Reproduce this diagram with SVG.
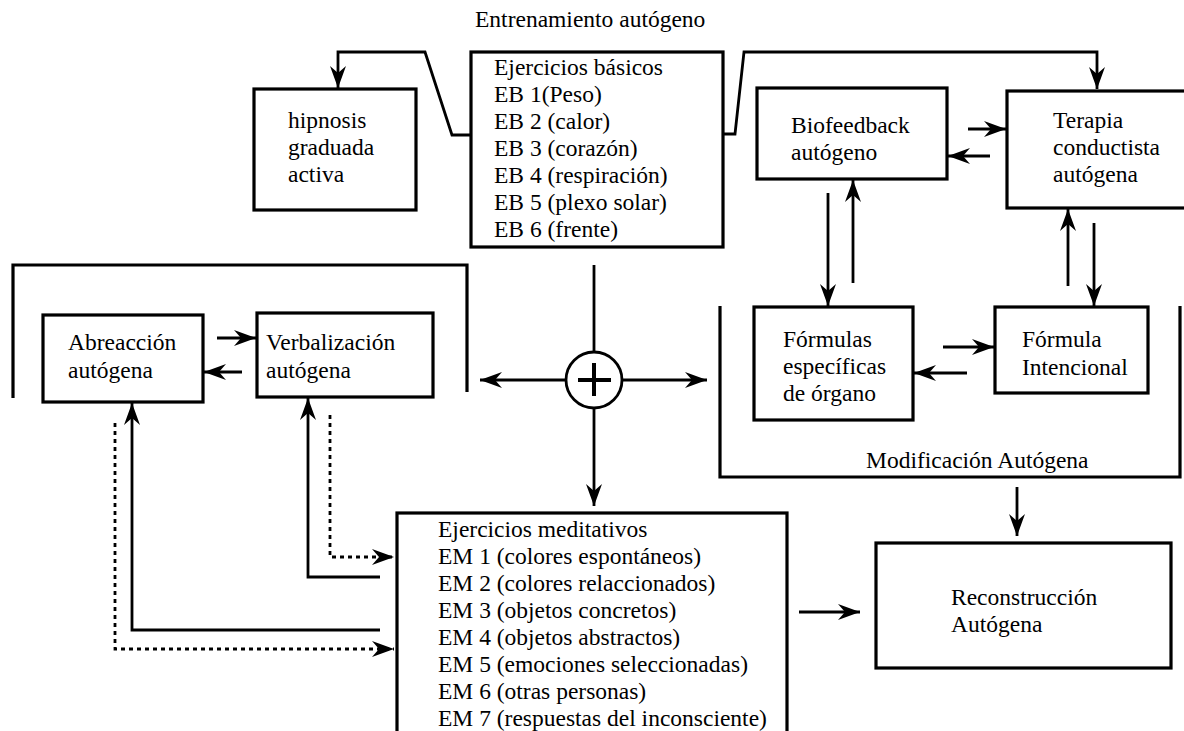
<svg xmlns="http://www.w3.org/2000/svg" width="1184" height="731" viewBox="0 0 1184 731">
<style>
  .box { fill: none; stroke: #000; stroke-width: 3.2; }
  .t { font-family: "Liberation Serif", "Times New Roman", serif; font-size: 23.5px; fill: #000; }
  .ln { fill: none; stroke: #000; stroke-width: 2.8; }
  .ar { fill: none; stroke: #000; stroke-width: 2.8; marker-end: url(#ah); }
  .dt { fill: none; stroke: #000; stroke-width: 2.8; stroke-dasharray: 4 4; marker-end: url(#ah); }
</style>
<defs>
  <marker id="ah" markerUnits="userSpaceOnUse" viewBox="0 0 22 16" refX="22" refY="8" markerWidth="22" markerHeight="16" orient="auto">
    <path d="M0,0 L22,8 L0,16 L7,8 z" fill="#000"/>
  </marker>
</defs>
<rect width="1184" height="731" fill="#fff"/>

<text class="t" x="475" y="27">Entrenamiento autógeno</text>

<g id="ejercicios-basicos">
  <rect class="box" x="471" y="52" width="252" height="195"/>
  <text class="t" x="494" y="75">Ejercicios básicos</text>
  <text class="t" x="494" y="102">EB 1(Peso)</text>
  <text class="t" x="494" y="129">EB 2 (calor)</text>
  <text class="t" x="494" y="156">EB 3 (corazón)</text>
  <text class="t" x="494" y="183">EB 4 (respiración)</text>
  <text class="t" x="494" y="210">EB 5 (plexo solar)</text>
  <text class="t" x="494" y="237">EB 6 (frente)</text>
</g>

<g id="hipnosis">
  <rect class="box" x="254" y="89" width="162" height="121"/>
  <text class="t" x="288" y="128">hipnosis</text>
  <text class="t" x="288" y="155">graduada</text>
  <text class="t" x="288" y="182">activa</text>
</g>

<g id="biofeedback">
  <rect class="box" x="757" y="88" width="190" height="91"/>
  <text class="t" x="791" y="133">Biofeedback</text>
  <text class="t" x="791" y="160">autógeno</text>
</g>

<g id="terapia">
  <rect class="box" x="1007" y="91" width="180" height="117"/>
  <text class="t" x="1053" y="128">Terapia</text>
  <text class="t" x="1053" y="155">conductista</text>
  <text class="t" x="1053" y="182">autógena</text>
</g>

<g id="formulas-organo">
  <rect class="box" x="754" y="307" width="159" height="113"/>
  <text class="t" x="783" y="347">Fórmulas</text>
  <text class="t" x="783" y="374">específicas</text>
  <text class="t" x="783" y="401">de órgano</text>
</g>

<g id="formula-intencional">
  <rect class="box" x="995" y="307" width="153" height="86"/>
  <text class="t" x="1022" y="347">Fórmula</text>
  <text class="t" x="1022" y="375">Intencional</text>
</g>

<g id="modificacion">
  <path class="box" d="M720,306 V477 H1180 V306"/>
  <text class="t" x="866" y="468">Modificación Autógena</text>
</g>

<g id="reconstruccion">
  <rect class="box" x="876" y="543" width="295" height="125"/>
  <text class="t" x="951" y="605">Reconstrucción</text>
  <text class="t" x="951" y="632">Autógena</text>
</g>

<g id="grupo-izquierdo">
  <path class="box" d="M13,398 V265 H467 V392"/>
</g>

<g id="abreaccion">
  <rect class="box" x="43" y="315" width="160" height="87"/>
  <text class="t" x="68" y="350">Abreacción</text>
  <text class="t" x="68" y="378">autógena</text>
</g>

<g id="verbalizacion">
  <rect class="box" x="257" y="313" width="176" height="84"/>
  <text class="t" x="266" y="350">Verbalización</text>
  <text class="t" x="266" y="378">autógena</text>
</g>

<g id="suma">
  <circle cx="594" cy="380" r="28" fill="none" stroke="#000" stroke-width="2.8"/>
  <line x1="578" y1="380" x2="611" y2="380" stroke="#000" stroke-width="4"/>
  <line x1="594" y1="363" x2="594" y2="396" stroke="#000" stroke-width="4"/>
</g>

<g id="ejercicios-meditativos">
  <rect class="box" x="397" y="513" width="390" height="230"/>
  <text class="t" x="438" y="537">Ejercicios meditativos</text>
  <text class="t" x="438" y="564">EM 1 (colores espontáneos)</text>
  <text class="t" x="438" y="591">EM 2 (colores relaccionados)</text>
  <text class="t" x="438" y="618">EM 3 (objetos concretos)</text>
  <text class="t" x="438" y="645">EM 4 (objetos abstractos)</text>
  <text class="t" x="438" y="672">EM 5 (emociones seleccionadas)</text>
  <text class="t" x="438" y="699">EM 6 (otras personas)</text>
  <text class="t" x="438" y="726">EM 7 (respuestas del inconsciente)</text>
</g>

<g id="connectors">
  <path class="ar" d="M471,135 H452 L425,52 H338 V88"/>
  <path class="ar" d="M723,134 H735 L744,52 H1097 V89"/>
  <path class="ar" d="M968,129 H1006"/>
  <path class="ar" d="M990,156 H948"/>
  <path class="ar" d="M828,193 V306"/>
  <path class="ar" d="M853,283 V180"/>
  <path class="ar" d="M1068,286 V209"/>
  <path class="ar" d="M1094,223 V306"/>
  <path class="ar" d="M943,347 H994"/>
  <path class="ar" d="M967,373 H914"/>
  <path class="ar" d="M1017,487 V536"/>
  <path class="ar" d="M799,612 H860"/>
  <path class="ln" d="M594,265 V352"/>
  <path class="ar" d="M566,380 H480"/>
  <path class="ar" d="M622,380 H707"/>
  <path class="ar" d="M594,408 V506"/>
  <path class="ar" d="M217,338 H256"/>
  <path class="ar" d="M242,372 H204"/>
  <path class="ar" d="M380,630 H132 V403"/>
  <path class="dt" d="M115,423 V649 H394"/>
  <path class="ar" d="M380,577 H308 V398"/>
  <path class="dt" d="M330,415 V557 H394"/>
</g>
</svg>
